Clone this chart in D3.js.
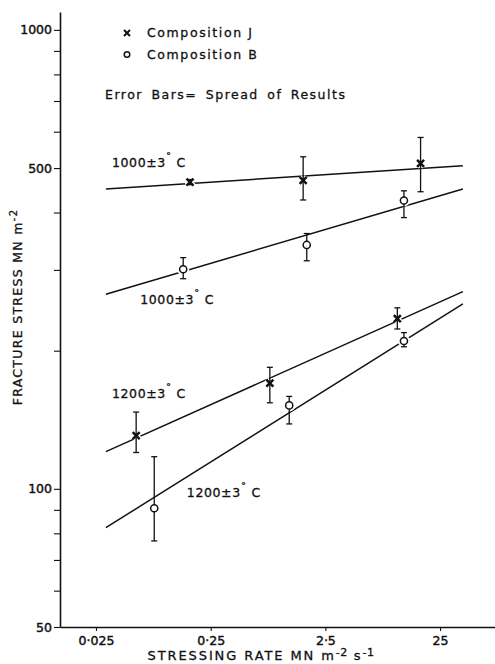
<!DOCTYPE html>
<html>
<head>
<meta charset="utf-8">
<script src="https://cdn.jsdelivr.net/npm/d3@7"></script>
<style>
body { margin: 0; background: #fff; }
text { font-family: "DejaVu Sans", sans-serif; fill: #111; stroke: #111; stroke-width: 0.3px; }
</style>
</head>
<body>
<div id="chart"></div>
<script>
var svgWidth = 495;
var svgHeight = 664;

// values: stressing rate (MN m-2 s-1), fracture stress (MN m-2)
var seriesNames = ["J1000", "B1000", "J1200", "B1200"];
var seriesComp = ["J", "B", "J", "B"];
var seriesLabels = ["1000\u00b13", "1000\u00b13", "1200\u00b13", "1200\u00b13"];

var rates = [
    [0.165, 1.60, 16.9],
    [0.144, 1.72, 12.1],
    [0.056, 0.82, 10.6],
    [0.0805, 1.21, 12.1]
];
var stress = [
    [466, 470, 512],
    [301, 340, 425],
    [130.6, 170, 235],
    [90.7, 152, 210]
];
var stressLow = [
    [460, 426, 444],
    [287, 314, 390],
    [120, 154, 223],
    [77, 138.5, 204]
];
var stressHigh = [
    [472, 529, 583],
    [319, 360, 446],
    [147, 184, 248],
    [117.5, 159, 219]
];

// fitted lines, end points
var fitRate = [0.0305, 39.5];
var fitStress = [
    [450, 506],
    [265.5, 450],
    [120.5, 269],
    [82.3, 253]
];

// where each temperature label sits (rate, stress)
var labelRate = [0.0345, 0.0608, 0.0345, 0.155];
var labelStress = [502, 253, 157.5, 96.2];

var yTicks = [50, 60, 70, 80, 90, 100, 200, 300, 400, 500, 600, 700, 800, 900, 1000];
var yTickLabels = [50, 100, 500, 1000];
var xTicks = [0.025, 0.25, 2.5, 25];

var svg = d3.select("#chart")
    .append("svg")
    .attr("width", svgWidth)
    .attr("height", svgHeight);

var xScale = d3.scaleLog().domain([0.01214, 75.3]).range([60, 495]);
var yScale = d3.scaleLog().domain([50, 1094]).range([627, 12]);

// axes
var leftAxis = d3.axisLeft(yScale)
    .tickValues(yTicks)
    .tickSize(6)
    .tickSizeOuter(0)
    .tickPadding(2)
    .tickFormat(d => yTickLabels.indexOf(d) >= 0 ? d : "");

var bottomAxis = d3.axisBottom(xScale)
    .tickValues(xTicks)
    .tickSize(4)
    .tickSizeOuter(0)
    .tickPadding(5)
    .tickFormat(d => String(d).replace(".", "\u00b7"));

var yAxis = svg.append("g")
    .attr("transform", "translate(60,0)")
    .call(leftAxis);

var xAxis = svg.append("g")
    .attr("transform", "translate(0,627)")
    .call(bottomAxis);

[yAxis, xAxis].forEach(function (ax) {
    ax.select(".domain").attr("stroke", "#111").attr("stroke-width", 1.6);
    ax.selectAll(".tick line").attr("stroke", "#111").attr("stroke-width", 1.1);
    ax.selectAll(".tick text")
        .style("font-family", "DejaVu Sans")
        .style("font-size", "12.5px")
        .style("stroke", "#111")
        .style("stroke-width", "0.45px")
        .attr("fill", "#111");
});

// axis titles
var yTitle = svg.append("text")
    .attr("transform", "translate(21.5,307) rotate(-90)")
    .attr("text-anchor", "middle")
    .style("font-size", "12.5px")
    .style("letter-spacing", "1.3px");
yTitle.append("tspan").text("FRACTURE STRESS MN m");
yTitle.append("tspan").attr("dy", -5).style("font-size", "10px").text("-2");

var xTitle = svg.append("text")
    .attr("x", 261)
    .attr("y", 660)
    .attr("text-anchor", "middle")
    .style("font-size", "13px")
    .style("letter-spacing", "1.9px");
xTitle.append("tspan").text("STRESSING RATE MN m");
xTitle.append("tspan").attr("dy", -4).style("font-size", "11px").style("letter-spacing", "0.5px").text("-2");
xTitle.append("tspan").attr("dy", 4).text(" s");
xTitle.append("tspan").attr("dy", -4).style("font-size", "11px").style("letter-spacing", "0.5px").text("-1");

// fitted lines
var line = d3.line().x(d => xScale(d[0])).y(d => yScale(d[1]));
var plot = svg.append("g");

seriesNames.forEach(function (name, i) {
    var pts = fitRate.map((r, k) => [r, fitStress[i][k]]);
    plot.append("path")
        .attr("d", line(pts))
        .attr("fill", "none")
        .attr("stroke", "#111")
        .attr("stroke-width", 1.5);
});

function markerPath(comp) {
    if (comp === "J") return "M-3.5,-3.5L3.5,3.5M-3.5,3.5L3.5,-3.5";
    return d3.symbol(d3.symbolCircle, 40)();
}

seriesNames.forEach(function (name, i) {
    var pts = rates[i].map((r, k) => ({
        rate: r, s: stress[i][k], lo: stressLow[i][k], hi: stressHigh[i][k]
    }));
    var g = plot.append("g").attr("class", name);

    // white halo so the line breaks round the marker
    g.selectAll("path.halo")
        .data(pts)
        .enter()
        .append("path")
        .attr("class", "halo")
        .attr("transform", d => `translate(${xScale(d.rate)},${yScale(d.s)})`)
        .attr("d", markerPath(seriesComp[i]))
        .attr("fill", "#fff")
        .attr("stroke", "#fff")
        .attr("stroke-width", 5);

    // error bars
    var eb = g.selectAll("g.err")
        .data(pts)
        .enter()
        .append("g")
        .attr("class", "err")
        .attr("stroke", "#111")
        .attr("stroke-width", 1.3);
    eb.append("line")
        .attr("x1", d => xScale(d.rate)).attr("x2", d => xScale(d.rate))
        .attr("y1", d => yScale(d.lo)).attr("y2", d => yScale(d.hi));
    eb.append("line")
        .attr("x1", d => xScale(d.rate) - 3).attr("x2", d => xScale(d.rate) + 3)
        .attr("y1", d => yScale(d.lo)).attr("y2", d => yScale(d.lo));
    eb.append("line")
        .attr("x1", d => xScale(d.rate) - 3).attr("x2", d => xScale(d.rate) + 3)
        .attr("y1", d => yScale(d.hi)).attr("y2", d => yScale(d.hi));

    g.selectAll("path.mark")
        .data(pts)
        .enter()
        .append("path")
        .attr("class", "mark")
        .attr("transform", d => `translate(${xScale(d.rate)},${yScale(d.s)})`)
        .attr("d", markerPath(seriesComp[i]))
        .attr("fill", "#fff")
        .attr("stroke", "#111")
        .attr("stroke-width", seriesComp[i] === "J" ? 2.5 : 1.5);

    // temperature label
    var t = svg.append("text")
        .attr("x", xScale(labelRate[i]))
        .attr("y", yScale(labelStress[i]))
        .style("font-size", "12.5px")
        .style("letter-spacing", "0.6px");
    t.append("tspan").text(seriesLabels[i]);
    t.append("tspan").attr("dy", -6).style("font-size", "11px").text("\u02da");
    t.append("tspan").attr("dy", 6).text(" C");
});

// legend
var legend = svg.append("g").attr("transform", "translate(127,0)");
legend.append("path")
    .attr("transform", "translate(0,33)")
    .attr("d", "M-3,-3L3,3M-3,3L3,-3")
    .attr("stroke", "#111").attr("stroke-width", 2);
legend.append("path")
    .attr("transform", "translate(0,54.5)")
    .attr("d", d3.symbol(d3.symbolCircle, 24)())
    .attr("fill", "#fff").attr("stroke", "#111").attr("stroke-width", 1.5);
legend.append("text").attr("x", 20).attr("y", 37)
    .style("font-size", "12.5px").style("letter-spacing", "1.6px")
    .text("Composition J");
legend.append("text").attr("x", 20).attr("y", 58.5)
    .style("font-size", "12.5px").style("letter-spacing", "1.6px")
    .text("Composition B");
svg.append("text").attr("x", 105).attr("y", 99)
    .style("font-size", "12.5px").style("letter-spacing", "1.5px").style("word-spacing", "3px")
    .text("Error Bars= Spread of Results");
</script>
</body>
</html>
